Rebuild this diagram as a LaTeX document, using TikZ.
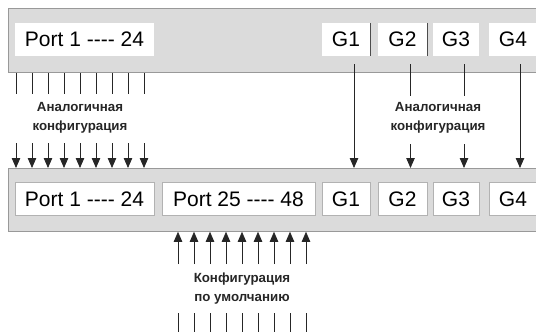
\documentclass[tikz,border=0pt]{standalone}
\usepackage{fontspec}
\setmainfont{Liberation Sans}
\usetikzlibrary{arrows.meta,positioning}

\begin{document}
\begin{tikzpicture}[x=1pt, y=-1pt,
    panel/.style={rectangle, draw=gray!80, fill=gray!28, line width=0.8pt,
                  anchor=north west, inner sep=0pt},
    box/.style={rectangle, fill=white, minimum height=33pt, inner sep=0pt,
                font=\fontsize{21}{24}\selectfont},
    framed/.style={box, draw=gray!60, line width=0.6pt},
    note/.style={align=center, font=\bfseries\fontsize{13.3}{19}\selectfont, text=black!85},
    link/.style={line width=0.8pt, draw=black!85},
    arrow/.style={link, -{Triangle[length=10pt, width=8.5pt]}}
  ]
    \useasboundingbox (0,0) rectangle (536,332);
    % panels
    \node[panel, minimum width=540pt, minimum height=64pt] (top) at (8,8) {};
    \node[panel, minimum width=540pt, minimum height=63pt] (bottom) at (8,168) {};
    % upper row
    \node[box, minimum width=139pt] (tport) at (84.5,39.5) {Port 1 -{}-{}-{}- 24};
    \node[box, minimum width=48pt] (tg1) at (346,39.5) {G1};
    \node[box, minimum width=49pt] (tg2) at (402.5,39.5) {G2};
    \node[box, minimum width=46pt] (tg3) at (456,39.5) {G3};
    \node[box, minimum width=48pt] (tg4) at (513,39.5) {G4};
    \draw[black!70, line width=0.6pt] (tg1.north east) -- (tg1.south east);
    \draw[black!70, line width=0.6pt] (tg2.north east) -- (tg2.south east);
    % lower row
    \node[framed, minimum width=139pt] (bport) at (84.5,199) {Port 1 -{}-{}-{}- 24};
    \node[framed, minimum width=153pt] (bport2) at (238.5,199) {Port 25 -{}-{}-{}- 48};
    \node[framed, minimum width=48pt] (bg1) at (346,199) {G1};
    \node[framed, minimum width=49pt] (bg2) at (402.5,199) {G2};
    \node[framed, minimum width=46pt] (bg3) at (456,199) {G3};
    \node[framed, minimum width=48pt] (bg4) at (513,199) {G4};
    % notes
    \node[note] (same) at (80,118) {Аналогичная\\конфигурация};
    \node[note] (sameg) at (438,118) {Аналогичная\\конфигурация};
    \node[note] (default) at (242,289) {Конфигурация\\по умолчанию};
    % ports 1-24
    \foreach \i in {0,...,8} {
      \path (16+16*\i,94) coordinate (a\i) (16+16*\i,143) coordinate (b\i);
      \draw[link] (a\i |- top.south) -- (a\i);
      \draw[arrow] (b\i) -- (b\i |- bottom.north);
    }
    % uplinks
    \draw[arrow] ([shift={(8,8)}]tg1.south) -- ([xshift=8pt]bg1.north |- bottom.north);
    \draw[link] ([shift={(8,8)}]tg2.south) -- ([shift={(8,40)}]tg2.south);
    \draw[arrow] ([shift={(8,88)}]tg2.south) -- ([xshift=8pt]bg2.north |- bottom.north);
    \draw[link] ([shift={(8,8)}]tg3.south) -- ([shift={(8,40)}]tg3.south);
    \draw[arrow] ([shift={(8,88)}]tg3.south) -- ([xshift=8pt]bg3.north |- bottom.north);
    \draw[arrow] ([shift={(7,8)}]tg4.south) -- ([xshift=7pt]bg4.north |- bottom.north);
    % ports 25-48
    \foreach \i in {0,...,8} {
      \path (178+16*\i,264) coordinate (c\i) (178+16*\i,313) coordinate (d\i);
      \draw[arrow] (c\i) -- (c\i |- bottom.south);
      \draw[link] (d\i) -- ++(0,22);
    }
\end{tikzpicture}
\end{document}
